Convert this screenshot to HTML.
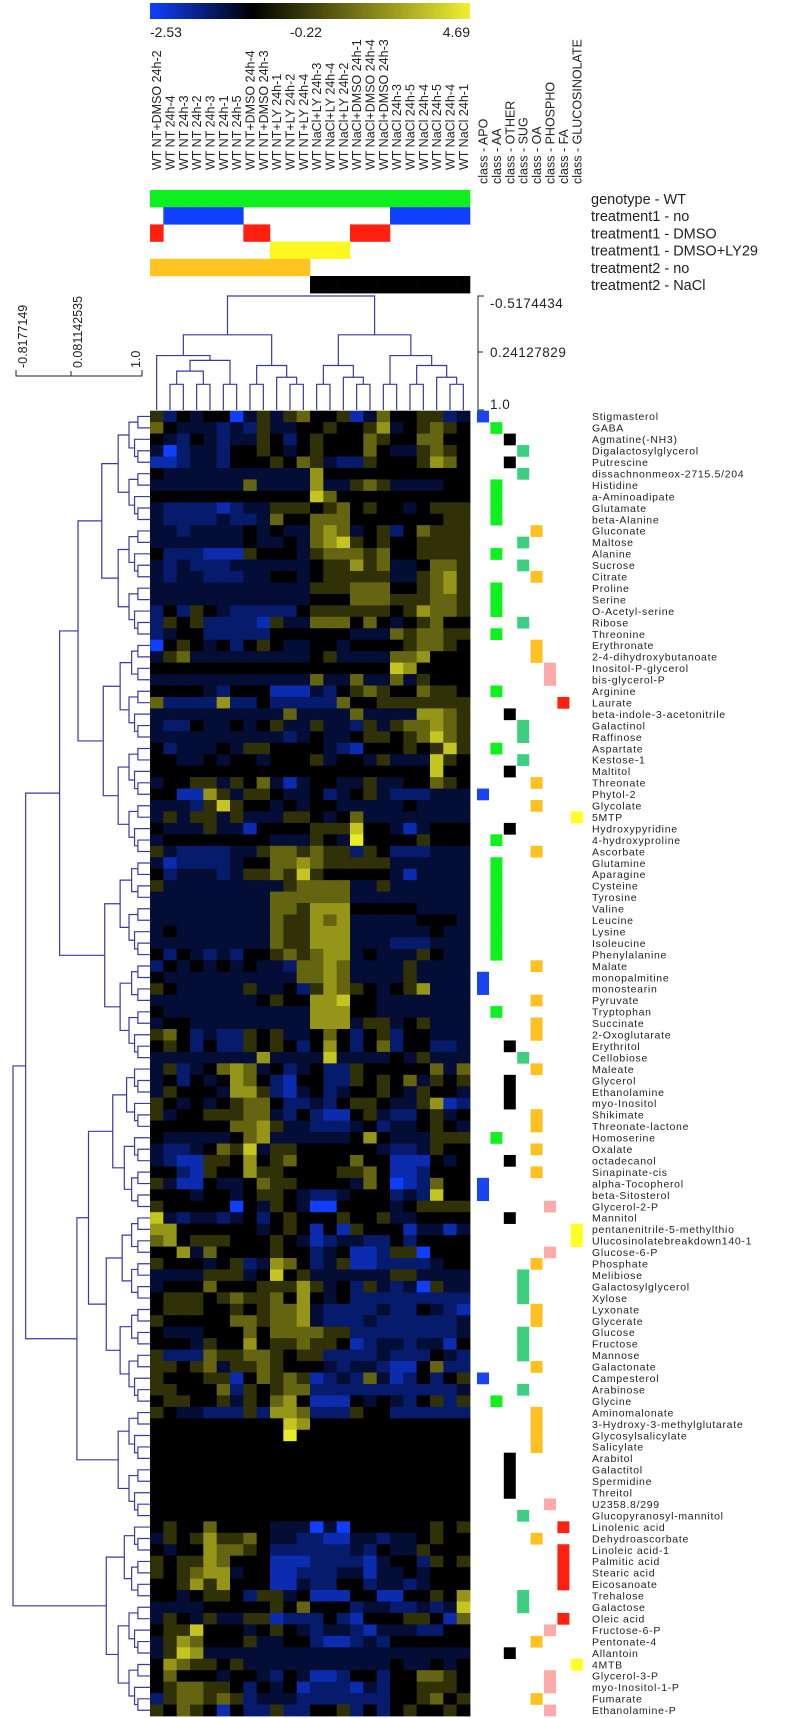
<!DOCTYPE html>
<html><head><meta charset="utf-8"><style>
html,body{margin:0;padding:0;background:#fff;}
svg{display:block;font-family:"Liberation Sans",sans-serif;}
</style></head><body>
<svg id="chart" width="794" height="1718" viewBox="0 0 794 1718" xmlns="http://www.w3.org/2000/svg">
<defs><linearGradient id="cg" x1="0" x2="1" y1="0" y2="0"><stop offset="0" stop-color="#1040ff"/><stop offset="0.32" stop-color="#000000"/><stop offset="1" stop-color="#f0f030"/></linearGradient></defs>
<g>
<rect x="150" y="3" width="320" height="16" fill="url(#cg)"/>
<text x="150" y="37" font-size="14" fill="#222">-2.53</text>
<text x="290" y="37" font-size="14" fill="#222">-0.22</text>
<text x="470" y="37" font-size="14" fill="#222" text-anchor="end">4.69</text>
</g>
<g id="layer"></g>
</svg>
<script>
const colLabels = ["WT NT+DMSO 24h-2","WT NT 24h-4","WT NT 24h-3","WT NT 24h-2","WT NT 24h-3","WT NT 24h-1","WT NT 24h-5","WT NT+DMSO 24h-4","WT NT+DMSO 24h-3","WT NT+LY 24h-1","WT NT+LY 24h-2","WT NT+LY 24h-4","WT NaCl+LY 24h-3","WT NaCl+LY 24h-4","WT NaCl+LY 24h-2","WT NaCl+DMSO 24h-1","WT NaCl+DMSO 24h-4","WT NaCl+DMSO 24h-3","WT NaCl 24h-3","WT NaCl 24h-5","WT NaCl 24h-4","WT NaCl 24h-5","WT NaCl 24h-4","WT NaCl 24h-1"];
const treatment1 = ["DMSO","no","no","no","no","no","no","DMSO","DMSO","LY","LY","LY","LY","LY","LY","DMSO","DMSO","DMSO","no","no","no","no","no","no"];
const treatment2 = ["no","no","no","no","no","no","no","no","no","no","no","no","NaCl","NaCl","NaCl","NaCl","NaCl","NaCl","NaCl","NaCl","NaCl","NaCl","NaCl","NaCl"];
const classNames = ["APO","AA","OTHER","SUG","OA","PHOSPHO","FA","GLUCOSINOLATE"];
const rowLabels = ["Stigmasterol","GABA","Agmatine(-NH3)","Digalactosylglycerol","Putrescine","dissachnonmeox-2715.5/204","Histidine","a-Aminoadipate","Glutamate","beta-Alanine","Gluconate","Maltose","Alanine","Sucrose","Citrate","Proline","Serine","O-Acetyl-serine","Ribose","Threonine","Erythronate","2-4-dihydroxybutanoate","Inositol-P-glycerol","bis-glycerol-P","Arginine","Laurate","beta-indole-3-acetonitrile","Galactinol","Raffinose","Aspartate","Kestose-1","Maltitol","Threonate","Phytol-2","Glycolate","5MTP","Hydroxypyridine","4-hydroxyproline","Ascorbate","Glutamine","Aparagine","Cysteine","Tyrosine","Valine","Leucine","Lysine","Isoleucine","Phenylalanine","Malate","monopalmitine","monostearin","Pyruvate","Tryptophan","Succinate","2-Oxoglutarate","Erythritol","Cellobiose","Maleate","Glycerol","Ethanolamine","myo-Inositol","Shikimate","Threonate-lactone","Homoserine","Oxalate","octadecanol","Sinapinate-cis","alpha-Tocopherol","beta-Sitosterol","Glycerol-2-P","Mannitol","pentanenitrile-5-methylthio","Ulucosinolatebreakdown140-1","Glucose-6-P","Phosphate","Melibiose","Galactosylglycerol","Xylose","Lyxonate","Glycerate","Glucose","Fructose","Mannose","Galactonate","Campesterol","Arabinose","Glycine","Aminomalonate","3-Hydroxy-3-methylglutarate","Glycosylsalicylate","Salicylate","Arabitol","Galactitol","Spermidine","Threitol","U2358.8/299","Glucopyranosyl-mannitol","Linolenic acid","Dehydroascorbate","Linoleic acid-1","Palmitic acid","Stearic acid","Eicosanoate","Trehalose","Galactose","Oleic acid","Fructose-6-P","Pentonate-4","Allantoin","4MTB","Glycerol-3-P","myo-Inositol-1-P","Fumarate","Ethanolamine-P"];
const rowClass = [0,1,2,3,2,3,1,1,1,1,4,3,1,3,4,1,1,1,3,1,4,4,5,5,1,6,2,3,3,1,3,2,4,0,4,7,2,1,4,1,1,1,1,1,1,1,1,1,4,0,0,4,1,4,4,2,3,4,2,2,2,4,4,1,4,2,4,0,0,5,2,7,7,5,4,3,3,3,4,4,3,3,3,4,0,3,1,4,4,4,4,2,2,2,2,5,3,6,4,6,6,6,6,3,3,6,5,4,2,7,5,5,4,5];
const levelValues = [-2.5,-1.8,-1.2,-0.7,-0.22,0.8,1.9,2.9,3.9,4.69];
const rowCodes = [
"524344035356445136445523","643332325334454457345654","432432335424544465446644","302332445434544464335654","112332444546532254445764",
"433333333333744444444444","333333363333733565333344","444444444444864444444444","322221233555456454434555","322223223644666444444455",
"332333343433676345246555","333333343343678545445555","422211154443566656445555","323222333333455756334665","323322233443455555335675",
"333333333333555666445675","333333333333444666555665","242543222224555555457665","254522221533666464345644","234422222444444333656655",
"045434245433443444456654","356333333333453333667444","444444444444444444874444","333333333333633633635444","444432444111324565446554",
"622227224222226445555555","333333333363333633337765","322433434533533253566765","333333333323433455456865","423334355444432144454585",
"443343443444534435333854","444444444444444444444844","344553546313443353344654","441175355433423453222333","333258544343443333343333",
"353553533355434633333333","433353314444555844313444","344444444333543944445444","532222335665655254222333","312222344667655555333333",
"423332355658544444313333","533333333356666335333333","333333333666666333333333","333333333665777444443333","333333333655767333334443",
"343333333655777333333433","333333333655777333222333","424323244565677343335433","243434343326676333353333","433333333336676333353333",
"543333353342576543457333","333333334544778443333333","433333333333777443333333","344333333333777355345333","564232254533464245244333",
"454242254542474246244223","333333337333383333435333","352346763423422544444636","342434764214422545463545","354443775213423445435443",
"543434566422324554335712","534455566324211453224534","444444667533222342334543","433333467333333474333555","322346583554444443223544",
"321155474564444644111434","442154475544445564112444","531143346554444364012644","444344345543223444232844","544444043543004444345555",
"832332342454445445334444","774444443454141544413313","674555444543123322424444","447364444544234112550444","544434523764235112222344",
"333355534845333333553333","344464445557534253230533","455545655647434222222222","455544545667322223224321","544444665667322232222223",
"433344464666655222222223","444354474556554123323314","522265566545522223222432","554563556544432332114622","544455146565123263124245",
"554446254566222222222223","455445354674111434324525","543322252776222544222222","444444444487444444444444","444444444494444444444444",
"444444444444444444444444","444444444444444444444444","444444444444444444444444","444444444444444444444444","444444444444444444444444",
"444444444444444444444444","444444444444444444444444","454464444333030444444545","354575564332211332334544","434476654222222324335444",
"545576444111222213442545","545677344112223313343444","445757444113224423323444","443455425534111441144547","333344444546444233223238",
"354353355122242144455416","455844434543233213332244","357644453344211232444444","358733333333333333333333","476554533333333333433434",
"464443443243112442446654","456655424341222132445554","256656523332222222445645","546541422522445242454454"];
const values = rowCodes.map(s => s.split("").map(ch => levelValues[+ch]));
const colTree = [[[0,[[[1,2],[3,4]],[5,6]]],[[7,8],[9,[10,11]]]],[[[12,13],[14,[15,16]]],[[17,18],[[19,20],[21,[22,23]]]]]];
const rowSplits = {"0-113":97,"0-96":57,"0-56":39,"57-96":87,"97-113":104,"0-38":20,"39-56":48,"57-86":70};

const NS="http://www.w3.org/2000/svg";
const layer=document.getElementById('layer');
const X0=150, CW=320/24, Y0=410.7, RH=(1716-410.7)/114;
const xCol=i=>X0+i*CW, yRow=r=>Y0+r*RH;
function mk(tag,attrs){const e=document.createElementNS(NS,tag);for(const k in attrs)e.setAttribute(k,attrs[k]);layer.appendChild(e);return e;}
function color(v){
  if(v<-0.22){const t=Math.min(1,(-0.22-v)/2.31);return `rgb(${Math.round(16*t)},${Math.round(64*t)},${Math.round(255*t)})`;}
  const t=Math.min(1,(v+0.22)/4.91);return `rgb(${Math.round(235*t)},${Math.round(235*t)},${Math.round(40*t)})`;
}
// column labels
colLabels.forEach((lab,i)=>{
  const cx=xCol(i)+CW/2+4.5;
  const t=mk('text',{x:cx,y:170,'font-size':12.5,fill:'#222',transform:`rotate(-90 ${cx} 170)`});
  
  
  t.textContent=lab;
});
classNames.forEach((c,i)=>{
  const cx=477+i*13.4+6+4.5;
  const t=mk('text',{x:cx,y:184,'font-size':12.5,fill:'#222',transform:`rotate(-90 ${cx} 184)`});
  
  
  t.textContent='class - '+c;
});
// annotation bars
const annRows=[
 {name:'genotype-bar',y:190,fill:'#10f020',test:i=>true},
 {name:'treatment1-no-bar',y:207.2,fill:'#1040ff',test:i=>treatment1[i]==='no'},
 {name:'treatment1-dmso-bar',y:224.4,fill:'#ff2010',test:i=>treatment1[i]==='DMSO'},
 {name:'treatment1-dmso-ly29-bar',y:241.6,fill:'#fff820',test:i=>treatment1[i]==='LY'},
 {name:'treatment2-no-bar',y:258.8,fill:'#ffc420',test:i=>treatment2[i]==='no'},
 {name:'treatment2-nacl-bar',y:276,fill:'#000000',test:i=>treatment2[i]==='NaCl'}];
annRows.forEach(a=>{for(let i=0;i<24;i++){if(a.test(i)){const r=mk('rect',{x:xCol(i),y:a.y,width:CW+0.3,height:17.4,fill:a.fill});
  
  }}});
const legendTexts=["genotype - WT","treatment1 - no","treatment1 - DMSO","treatment1 - DMSO+LY29","treatment2 - no","treatment2 - NaCl"];
legendTexts.forEach((s,k)=>{const t=mk('text',{x:591,y:204+k*17.2,'font-size':14.5,fill:'#222'});
  
  
  t.textContent=s;});
// heatmap cells
values.forEach((row,r)=>row.forEach((v,c)=>{
  const e=mk('rect',{x:xCol(c),y:yRow(r),width:CW+0.4,height:RH+0.4,fill:color(v)});
  
  
}));
// class markers
const classColors=['#1a44f0','#10f020','#000000','#3ccf80','#ffc020','#ffaaaa','#ff2010','#ffff20'];
rowClass.forEach((k,r)=>{const e=mk('rect',{x:477+k*13.4,y:yRow(r),width:12,height:RH+0.3,fill:classColors[k]});
  
  });
// row labels
rowLabels.forEach((s,r)=>{const t=mk('text',{x:592,y:yRow(r)+RH/2+3.8,'font-size':10.5,'letter-spacing':'0.7',fill:'#222'});
  
  
  t.textContent=s;});
// column dendrogram
const DC='#3a3aa0';
function cSize(n){return Array.isArray(n)?cSize(n[0])+cSize(n[1]):1;}
function drawCol(n){
  if(!Array.isArray(n))return {x:xCol(n)+CW/2,y:410};
  const a=drawCol(n[0]),b=drawCol(n[1]);const y=410-114*Math.pow(cSize(n)/24,0.6);
  const p=mk('path',{d:`M${a.x},${a.y}V${y}H${b.x}V${b.y}`,fill:'none',stroke:DC,'stroke-width':1.2});
  
  
  return {x:(a.x+b.x)/2,y:y};
}
drawCol(colTree);
// row dendrogram
function buildRow(lo,hi){if(lo===hi)return {leaf:lo,size:1};let s=rowSplits[lo+'-'+hi];if(s===undefined)s=Math.floor((lo+hi+1)/2);return {c:[buildRow(lo,s-1),buildRow(s,hi)],size:hi-lo+1};}
function drawRow(n){
  if(n.leaf!==undefined)return {y:yRow(n.leaf)+RH/2,x:150};
  const a=drawRow(n.c[0]),b=drawRow(n.c[1]);const x=150-137*Math.pow(n.size/114,0.6);
  const p=mk('path',{d:`M${a.x},${a.y}H${x}V${b.y}H${b.x}`,fill:'none',stroke:DC,'stroke-width':1.2});
  
  
  return {y:(a.y+b.y)/2,x:x};
}
drawRow(buildRow(0,113));
// column dendrogram scale
const cs=mk('path',{d:'M484,296H478V410H484M478,352H483',fill:'none',stroke:'#222','stroke-width':1});


[["-0.5174434",308],["0.24127829",357],["1.0",409]].forEach(([s,y])=>{const t=mk('text',{x:490,y:y,'font-size':13.5,fill:'#222','letter-spacing':'0.5'});
  
  
  t.textContent=s;});
// row dendrogram scale
const rs=mk('path',{d:'M16,370V376H142V370M71,376V371',fill:'none',stroke:'#222','stroke-width':1});


[["-0.8177149",27],["0.081142535",82],["1.0",140]].forEach(([s,x])=>{const t=mk('text',{x:x,y:368,'font-size':12.5,fill:'#222',transform:`rotate(-90 ${x} 368)`});
  
  
  t.textContent=s;});
</script>
</body></html>
